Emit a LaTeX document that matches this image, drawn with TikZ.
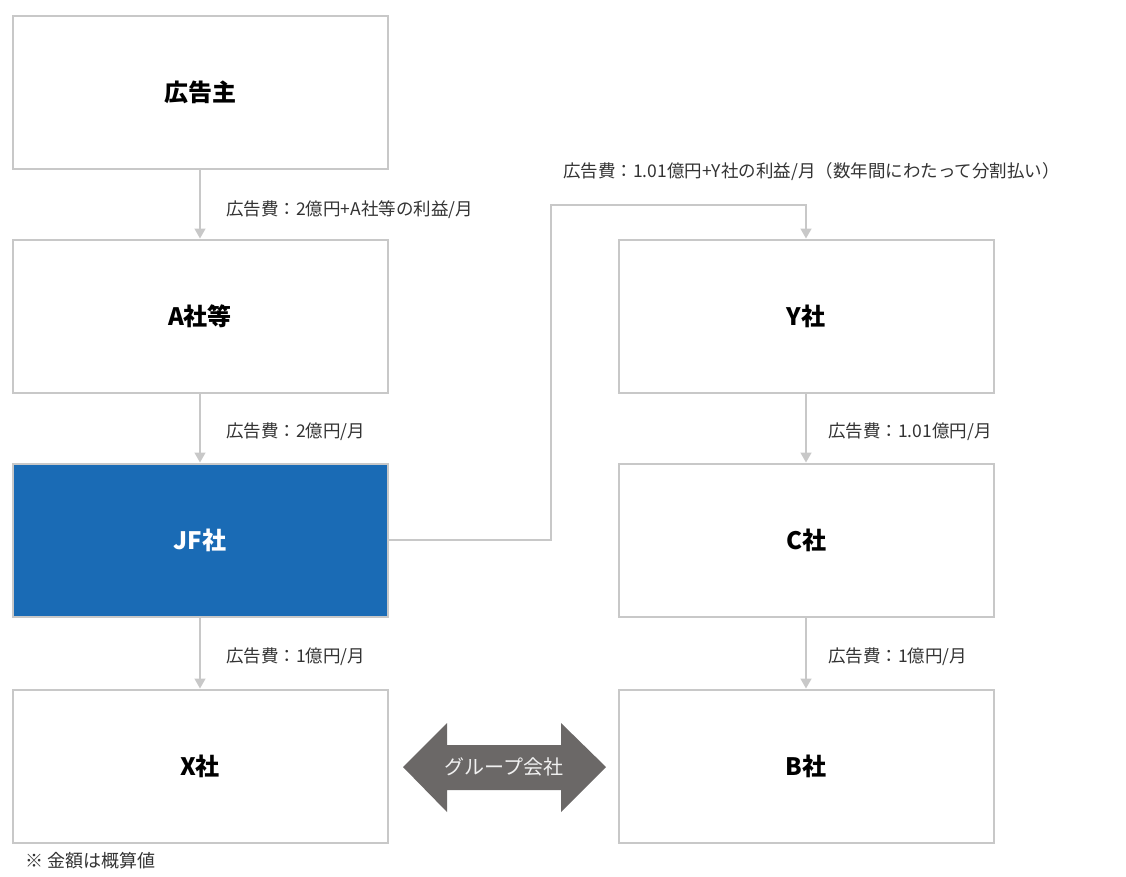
\documentclass[tikz,border=0pt]{standalone}
\usepackage{fontspec}
\setmainfont{Noto Sans CJK JP}
\usetikzlibrary{arrows.meta}
\definecolor{linegray}{HTML}{C8C8C8}
\definecolor{jfblue}{HTML}{1A6BB5}
\definecolor{grpgray}{HTML}{6B6867}
\definecolor{txtgray}{HTML}{333333}

\begin{document}
\begin{tikzpicture}[x=1pt, y=-1pt,
    company/.style={draw=linegray, line width=2pt, fill=white, minimum width=375pt, minimum height=153pt, font=\fontsize{24}{28}\selectfont\bfseries, text=black},
    flow/.style={draw=linegray, line width=1.5pt, -{Triangle[width=11pt, length=10pt]}},
    fee/.style={anchor=west, font=\fontsize{17.5}{21}\selectfont, text=txtgray, inner sep=0pt}]
        \useasboundingbox (0,0) rectangle (1126,876);

        % left column
        \node (sponsor) at (200,92) [company]{広告主};
        \node (agency) at (200,316) [company]{A社等};
        \node (jf) at (200,540) [company, fill=jfblue, text=white]{JF社};
        \node (x) at (200,766) [company]{X社};

        % right column
        \node (y) at (806,316) [company]{Y社};
        \node (c) at (806,540) [company]{C社};
        \node (b) at (806,766) [company]{B社};

        % flows of money
        \draw[flow] (sponsor) -- (agency);
        \draw[flow] (agency) -- (jf);
        \draw[flow] (jf) -- (x);
        \draw[flow] (y) -- (c);
        \draw[flow] (c) -- (b);
        \coordinate (bend) at (551,205);
        \draw[flow] (jf.east) -| (bend) -| (y.north);

        \node (fee1) at (226,210) [fee]{広告費：2億円+A社等の利益/月};
        \node (fee2) at (226,432) [fee]{広告費：2億円/月};
        \node (fee3) at (226,657) [fee]{広告費：1億円/月};
        \node (fee4) at (828,432) [fee]{広告費：1.01億円/月};
        \node (fee5) at (828,657) [fee]{広告費：1億円/月};
        \node (fee6) at (563,172) [fee]{広告費：1.01億円+Y社の利益/月（数年間にわたって分割払い）};

        % group relation
        \fill[grpgray] (403,767) -- (447,723) -- (447,745) -- (561,745) -- (561,723) -- (606,767)
            -- (561,812) -- (561,790) -- (447,790) -- (447,812) -- cycle;
        \node (grp) at (504,767) [font=\fontsize{20}{24}\selectfont, text=white!88!gray]{グループ会社};

        \node (note) at (25,861) [fee, font=\fontsize{18}{22}\selectfont]{※ 金額は概算値};
\end{tikzpicture}
\end{document}
